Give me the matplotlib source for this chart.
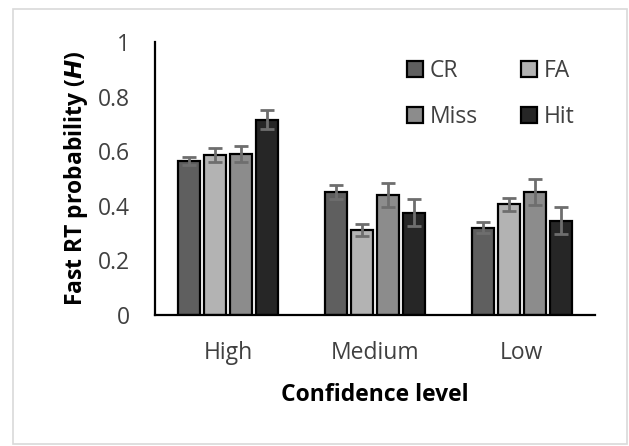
import matplotlib
matplotlib.use("Agg")
import matplotlib.pyplot as plt
import numpy as np
from matplotlib.patches import Rectangle

categories = ["High", "Medium", "Low"]
series = ["CR", "FA", "Miss", "Hit"]
values = {
    "CR":   [0.565, 0.450, 0.320],
    "FA":   [0.585, 0.310, 0.405],
    "Miss": [0.590, 0.440, 0.450],
    "Hit":  [0.715, 0.375, 0.345],
}
errors = {
    "CR":   [0.015, 0.025, 0.020],
    "FA":   [0.025, 0.022, 0.025],
    "Miss": [0.030, 0.045, 0.048],
    "Hit":  [0.035, 0.050, 0.050],
}
colors = {"CR": "#5f5f5f", "FA": "#b3b3b3", "Miss": "#8c8c8c", "Hit": "#262626"}
yticks = [0, 0.2, 0.4, 0.6, 0.8, 1]
ytick_labels = ["0", "0.2", "0.4", "0.6", "0.8", "1"]

plt.rcParams['font.family'] = ['Open Sans', 'DejaVu Sans']

fig = plt.figure(figsize=(6.29, 4.46), dpi=100)
fig.patches.append(Rectangle((13/629, 2/446), 614/629, 435/446, transform=fig.transFigure,
                             fill=False, edgecolor="#d9d9d9", linewidth=1.2))
ax = fig.add_axes([0.2464, 0.2937, 0.6996, 0.6121])

x = np.arange(len(categories))
pitch = 0.177
width = 0.15
handles = {}
for i, s in enumerate(series):
    pos = x + (i - 1.5) * pitch
    handles[s] = ax.bar(pos, values[s], width, color=colors[s], edgecolor="black",
                        linewidth=1.6, label=s, zorder=2)
    ax.errorbar(pos, values[s], yerr=errors[s], fmt="none", ecolor="#6e6e6e",
                elinewidth=2, capsize=5, capthick=2, zorder=3)

ax.set_xlim(-0.5, 2.5)
ax.set_ylim(0, 1)
ax.set_yticks(yticks)
ax.set_yticklabels(ytick_labels)
ax.set_xticks(x)
ax.set_xticklabels(categories)
ax.tick_params(axis="both", length=0, labelsize=16.5, colors="#404040")
ax.tick_params(axis="x", pad=19)
ax.tick_params(axis="y", pad=18)
for sp in ["top", "right"]:
    ax.spines[sp].set_visible(False)
for sp in ["left", "bottom"]:
    ax.spines[sp].set_linewidth(1.6)
    ax.spines[sp].set_color("black")

ax.set_ylabel("Fast RT probability ($\\mathbfit{H}$)", fontsize=16.5, fontweight="bold", labelpad=6)
ax.set_xlabel("Confidence level", fontsize=16.5, fontweight="bold", labelpad=13)

order = ["CR", "Miss", "FA", "Hit"]
leg = ax.legend([handles[s] for s in order], order, ncol=2, loc="center",
                bbox_to_anchor=(0.763, 0.81), frameon=False,
                fontsize=16.5, handlelength=0.68, handleheight=0.68, columnspacing=1.9,
                labelspacing=0.95, handletextpad=0.3, borderpad=0)
for t in leg.get_texts():
    t.set_color("#404040")

fig.savefig("out.png", dpi=100)
